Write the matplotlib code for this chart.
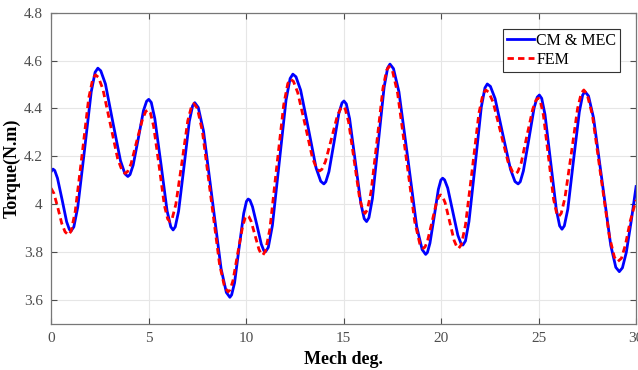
import matplotlib
matplotlib.use('Agg')
import matplotlib.pyplot as plt

# CM & MEC torque (mech deg, N.m)
cm_deg = [0.00, 0.10, 0.19, 0.33, 0.57, 0.80, 0.94, 1.03,
          1.17, 1.37, 1.72, 2.06, 2.26, 2.40,
          2.55, 2.79, 3.17, 3.56, 3.79, 3.94,
          4.05, 4.21, 4.48, 4.74, 4.90, 5.01,
          5.14, 5.32, 5.64, 5.95, 6.14, 6.26,
          6.37, 6.54, 6.82, 7.09, 7.26, 7.37,
          7.55, 7.82, 8.27, 8.72, 8.99, 9.17,
          9.26, 9.41, 9.64, 9.88, 10.02, 10.11,
          10.20, 10.33, 10.56, 10.78, 10.91, 11.00,
          11.14, 11.35, 11.70, 12.05, 12.26, 12.40,
          12.56, 12.80, 13.20, 13.59, 13.83, 13.99,
          14.09, 14.25, 14.51, 14.76, 14.92, 15.02,
          15.14, 15.31, 15.60, 15.89, 16.06, 16.18,
          16.30, 16.48, 16.78, 17.08, 17.26, 17.38,
          17.56, 17.84, 18.30, 18.75, 19.03, 19.21,
          19.30, 19.43, 19.65, 19.86, 19.99, 20.08,
          20.18, 20.34, 20.60, 20.86, 21.02, 21.12,
          21.25, 21.43, 21.75, 22.06, 22.25, 22.37,
          22.53, 22.77, 23.16, 23.56, 23.79, 23.95,
          24.06, 24.22, 24.50, 24.77, 24.93, 25.04,
          25.16, 25.33, 25.62, 25.91, 26.08, 26.20,
          26.32, 26.50, 26.79, 27.09, 27.26, 27.38,
          27.56, 27.82, 28.26, 28.70, 28.96, 29.14,
          29.30, 29.50, 29.75, 30.00]
cm_torque = [4.136, 4.147, 4.141, 4.109, 4.018, 3.927, 3.895, 3.889,
             3.906, 3.988, 4.229, 4.469, 4.551, 4.568,
             4.557, 4.502, 4.342, 4.182, 4.127, 4.116,
             4.124, 4.163, 4.277, 4.391, 4.430, 4.438,
             4.425, 4.358, 4.166, 3.973, 3.906, 3.893,
             3.906, 3.971, 4.159, 4.346, 4.411, 4.424,
             4.404, 4.305, 4.018, 3.731, 3.632, 3.612,
             3.622, 3.672, 3.817, 3.962, 4.012, 4.022,
             4.017, 3.990, 3.912, 3.834, 3.807, 3.802,
             3.820, 3.911, 4.173, 4.435, 4.525, 4.543,
             4.532, 4.476, 4.314, 4.152, 4.096, 4.085,
             4.094, 4.136, 4.258, 4.380, 4.423, 4.431,
             4.419, 4.357, 4.180, 4.002, 3.940, 3.928,
             3.944, 4.024, 4.257, 4.489, 4.569, 4.585,
             4.566, 4.469, 4.188, 3.907, 3.811, 3.791,
             3.799, 3.838, 3.950, 4.062, 4.101, 4.109,
             4.102, 4.068, 3.970, 3.871, 3.837, 3.830,
             3.847, 3.928, 4.166, 4.404, 4.486, 4.502,
             4.492, 4.441, 4.294, 4.146, 4.095, 4.085,
             4.094, 4.139, 4.271, 4.402, 4.447, 4.456,
             4.442, 4.374, 4.176, 3.978, 3.910, 3.896,
             3.910, 3.980, 4.183, 4.386, 4.456, 4.470,
             4.452, 4.360, 4.095, 3.829, 3.737, 3.719,
             3.735, 3.800, 3.930, 4.074]

# FEM torque
fem_deg = [0.00, 0.15, 0.35, 0.55, 0.72, 0.89,
           1.03, 1.24, 1.59, 1.93, 2.14, 2.28,
           2.43, 2.66, 3.04, 3.42, 3.65, 3.80,
           3.92, 4.10, 4.39, 4.69, 4.86, 4.98,
           5.09, 5.26, 5.54, 5.81, 5.98, 6.09,
           6.21, 6.40, 6.71, 7.01, 7.20, 7.32,
           7.50, 7.76, 8.20, 8.64, 8.90, 9.08,
           9.18, 9.33, 9.57, 9.82, 9.96, 10.06,
           10.14, 10.26, 10.46, 10.66, 10.78, 10.86,
           11.00, 11.22, 11.57, 11.93, 12.14, 12.28,
           12.43, 12.65, 13.03, 13.40, 13.62, 13.77,
           13.89, 14.07, 14.38, 14.68, 14.86, 14.98,
           15.09, 15.26, 15.54, 15.82, 15.99, 16.10,
           16.22, 16.41, 16.72, 17.02, 17.21, 17.33,
           17.51, 17.77, 18.21, 18.65, 18.91, 19.09,
           19.18, 19.31, 19.54, 19.76, 19.89, 19.98,
           20.07, 20.21, 20.44, 20.67, 20.81, 20.90,
           21.04, 21.25, 21.60, 21.94, 22.15, 22.29,
           22.44, 22.67, 23.05, 23.43, 23.66, 23.81,
           23.93, 24.11, 24.40, 24.70, 24.87, 24.99,
           25.09, 25.25, 25.51, 25.77, 25.93, 26.03,
           26.16, 26.35, 26.68, 27.00, 27.19, 27.32,
           27.49, 27.76, 28.19, 28.63, 28.89, 29.06,
           29.25, 29.45, 29.70, 30.00]
fem_torque = [4.067, 4.045, 3.985, 3.920, 3.885, 3.872,
              3.888, 3.970, 4.206, 4.442, 4.524, 4.540,
              4.530, 4.480, 4.335, 4.189, 4.139, 4.129,
              4.136, 4.168, 4.262, 4.355, 4.388, 4.394,
              4.383, 4.326, 4.161, 3.996, 3.939, 3.928,
              3.940, 4.000, 4.174, 4.348, 4.408, 4.420,
              4.401, 4.305, 4.028, 3.750, 3.654, 3.635,
              3.643, 3.682, 3.794, 3.906, 3.945, 3.953,
              3.949, 3.929, 3.871, 3.812, 3.792, 3.788,
              3.806, 3.896, 4.155, 4.415, 4.504, 4.522,
              4.513, 4.466, 4.331, 4.195, 4.148, 4.139,
              4.146, 4.178, 4.274, 4.369, 4.401, 4.408,
              4.397, 4.343, 4.185, 4.027, 3.973, 3.962,
              3.977, 4.052, 4.269, 4.485, 4.560, 4.575,
              4.556, 4.464, 4.196, 3.927, 3.835, 3.816,
              3.822, 3.849, 3.928, 4.006, 4.034, 4.039,
              4.034, 4.006, 3.928, 3.849, 3.822, 3.816,
              3.832, 3.913, 4.147, 4.380, 4.461, 4.477,
              4.468, 4.426, 4.302, 4.178, 4.136, 4.127,
              4.135, 4.173, 4.285, 4.397, 4.435, 4.443,
              4.431, 4.371, 4.196, 4.021, 3.961, 3.949,
              3.962, 4.026, 4.213, 4.400, 4.464, 4.477,
              4.459, 4.372, 4.119, 3.866, 3.779, 3.761,
              3.775, 3.830, 3.930, 4.018]

x_ticks = [0, 5, 10, 15, 20, 25, 30]
y_ticks = [3.6, 3.8, 4.0, 4.2, 4.4, 4.6, 4.8]
y_labels = ['3.6', '3.8', '4', '4.2', '4.4', '4.6', '4.8']

plt.rcParams['font.family'] = ['Liberation Serif', 'DejaVu Serif']

fig = plt.figure(figsize=(6.38, 3.70), dpi=100)
ax = fig.add_axes([0.080, 0.124, 0.917, 0.842])

ax.plot(cm_deg, cm_torque, '-', color='#0000ff', lw=2.0, label='CM & MEC',
        solid_joinstyle='round')
ax.plot(fem_deg, fem_torque, '--', color='#ff0000', lw=2.0, label='FEM',
        dashes=(2.3, 1.5))

ax.set_xlim(0, 30)
ax.set_ylim(3.5, 4.8)
ax.set_xticks(x_ticks)
ax.set_yticks(y_ticks)
ax.set_yticklabels(y_labels)

# matlab look: box on, ticks inside, light grid
ax.grid(True, color='#e6e6e6', lw=0.8)
ax.set_axisbelow(True)
ax.tick_params(direction='in', length=4, width=0.8, colors='#4d4d4d',
               labelsize=11, top=True, right=True, pad=6)
for spine in ax.spines.values():
    spine.set_color('#777777')
    spine.set_linewidth(0.9)

ax.set_xlabel('Mech deg.', fontsize=13, fontweight='bold', labelpad=4)
ax.set_ylabel('Torque(N.m)', fontsize=13, fontweight='bold', labelpad=2)

legend = ax.legend(loc='upper right', bbox_to_anchor=(0.973, 0.948),
                   fontsize=11.5, fancybox=False, framealpha=1,
                   handlelength=1.7, handletextpad=0.15, borderpad=0.25,
                   labelspacing=0.2, borderaxespad=0)
legend.get_frame().set_edgecolor('#333333')
legend.get_frame().set_linewidth(0.8)

plt.savefig('out.png', dpi=100)
